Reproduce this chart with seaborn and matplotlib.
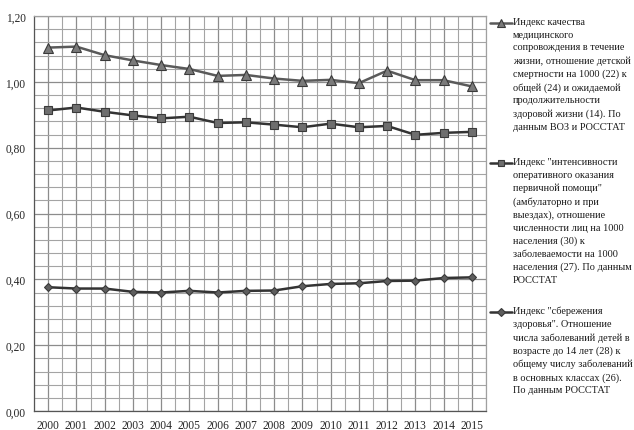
import numpy as np
import pandas as pd
import seaborn as sns
import matplotlib.pyplot as plt
from matplotlib.lines import Line2D
from matplotlib.ticker import MultipleLocator, FuncFormatter

# === Data ===
years = list(range(2000, 2016))
quality = [1.104, 1.107, 1.081, 1.065, 1.051, 1.039, 1.018, 1.021,
           1.010, 1.003, 1.006, 0.996, 1.034, 1.005, 1.005, 0.986]
intensity = [0.913, 0.922, 0.909, 0.898, 0.889, 0.894, 0.875, 0.877,
             0.870, 0.862, 0.873, 0.862, 0.866, 0.839, 0.845, 0.848]
saving = [0.376, 0.372, 0.372, 0.362, 0.360, 0.365, 0.360, 0.365,
          0.366, 0.379, 0.386, 0.388, 0.395, 0.396, 0.404, 0.406]

labels = [
    "Индекс качества\nмедицинского\nсопровождения в течение\nжизни, отношение детской\n"
    "смертности на 1000 (22) к\nобщей (24) и ожидаемой\nпродолжительности\n"
    "здоровой жизни (14). По\nданным ВОЗ и РОССТАТ",
    "Индекс \"интенсивности\nоперативного оказания\nпервичной помощи\"\n(амбулаторно и при\n"
    "выездах), отношение\nчисленности лиц на 1000\nнаселения (30) к\n"
    "заболеваемости на 1000\nнаселения (27). По данным\nРОССТАТ",
    "Индекс \"сбережения\nздоровья\". Отношение\nчисла заболеваний детей в\n"
    "возрасте до 14 лет (28) к\nобщему числу заболеваний\nв основных классах (26).\n"
    "По данным РОССТАТ",
]

df = pd.DataFrame({"year": years, "q": quality, "i": intensity, "s": saving})

sns.set_style("white")
plt.rcParams["font.family"] = ["Liberation Serif", "DejaVu Serif"]

fig = plt.figure(figsize=(6.34, 4.31), dpi=100)
ax = fig.add_axes([34 / 634, 19 / 431, 452 / 634, 395 / 431])

styles = [
    ("q", "^", "#5a5a5a", "#7a7a7a", 6.5),
    ("i", "s", "#333333", "#6e6e6e", 5.5),
    ("s", "D", "#333333", "#5e5e5e", 4.5),
]
for col, mk, lc, fc, ms in styles:
    sns.lineplot(data=df, x="year", y=col, ax=ax, color=lc, linewidth=1.8,
                 marker=mk, markersize=ms, markerfacecolor=fc,
                 markeredgecolor="#3a3a3a", markeredgewidth=0.8)

ax.set_xlim(1999.5, 2015.5)
ax.set_ylim(0, 1.2)
ax.set_xticks(years)
ax.set_xticks(np.arange(1999.5, 2016, 1), minor=True)
ax.yaxis.set_major_locator(MultipleLocator(0.2))
ax.yaxis.set_minor_locator(MultipleLocator(0.04))
ax.yaxis.set_major_formatter(FuncFormatter(lambda v, p: f"{v:.2f}".replace(".", ",")))

ax.grid(True, which="major", color="#8c8c8c", linewidth=0.9)
ax.grid(True, which="minor", color="#a4a4a4", linewidth=0.8)
ax.set_axisbelow(True)
for s in ax.spines.values():
    s.set_color("#a0a0a0")
    s.set_linewidth(0.9)
ax.spines["left"].set_color("#555555")
ax.spines["bottom"].set_color("#555555")

ax.tick_params(axis="x", which="major", length=0, pad=6, labelsize=8.3)
ax.tick_params(axis="x", which="minor", length=4, color="#555555")
ax.tick_params(axis="y", which="major", length=4, color="#555555", labelsize=8.3, pad=2)
ax.tick_params(axis="y", which="minor", length=0)
ax.set_xlabel("")
ax.set_ylabel("")

# legend drawn entry by entry, marker next to the first line
legend_tops = [18, 158, 307]
for (col, mk, lc, fc, ms), lab, top in zip(styles, labels, legend_tops):
    yc = 1 - (top + 6) / 431
    fig.add_artist(Line2D([490 / 634, 501 / 634, 512 / 634], [yc, yc, yc],
                          color=lc, linewidth=1.8, marker=mk, markersize=ms - 0.5,
                          markevery=[1], markerfacecolor=fc, markeredgecolor="#3a3a3a",
                          markeredgewidth=0.8, transform=fig.transFigure))
    fig.text(513 / 634, 1 - top / 431, lab, ha="left", va="top", fontsize=7.4,
             linespacing=1.52, color="#1a1a1a")

fig.savefig("out.png", dpi=100)
